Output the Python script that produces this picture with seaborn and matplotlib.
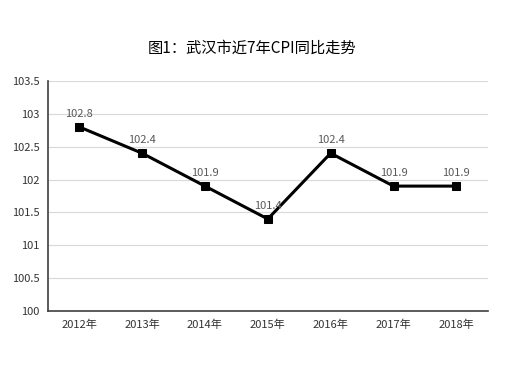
import pandas as pd
import seaborn as sns
import matplotlib.pyplot as plt

years = ['2012年', '2013年', '2014年', '2015年', '2016年', '2017年', '2018年']
cpi = [102.8, 102.4, 101.9, 101.4, 102.4, 101.9, 101.9]
yticks = [100, 100.5, 101, 101.5, 102, 102.5, 103, 103.5]
ytick_labels = ['100', '100.5', '101', '101.5', '102', '102.5', '103', '103.5']

sns.set_style('white')
plt.rcParams['font.family'] = ['Noto Sans CJK SC', 'DejaVu Sans']

df = pd.DataFrame({'year': years, 'cpi': cpi})

fig = plt.figure(figsize=(5.14, 3.85), dpi=100)
ax = fig.add_axes([0.093, 0.192, 0.856, 0.598])
sns.lineplot(data=df, x='year', y='cpi', ax=ax, color='black', linewidth=2.2,
             marker='s', markersize=6, markeredgecolor='black', sort=False)

for i, v in enumerate(cpi):
    ax.text(i, v + 0.12, f'{v:.1f}', ha='center', va='bottom', fontsize=8, color='#595959')

ax.set_xlim(-0.5, len(years) - 0.5)
ax.set_ylim(100, 103.5)
ax.set_yticks(yticks)
ax.set_yticklabels(ytick_labels)
ax.grid(axis='y', color='#d9d9d9', linewidth=0.8)
ax.set_axisbelow(True)
ax.tick_params(axis='both', length=0, labelsize=8, colors='#333333', pad=6)
ax.set_xlabel('')
ax.set_ylabel('')
for s in ['top', 'right']:
    ax.spines[s].set_visible(False)
for s in ['left', 'bottom']:
    ax.spines[s].set_color('#404040')
    ax.spines[s].set_linewidth(1.2)

fig.text(0.49, 0.875, '图1：武汉市近7年CPI同比走势', ha='center', va='center', fontsize=11, color='black')

plt.savefig('out.png', dpi=100)
